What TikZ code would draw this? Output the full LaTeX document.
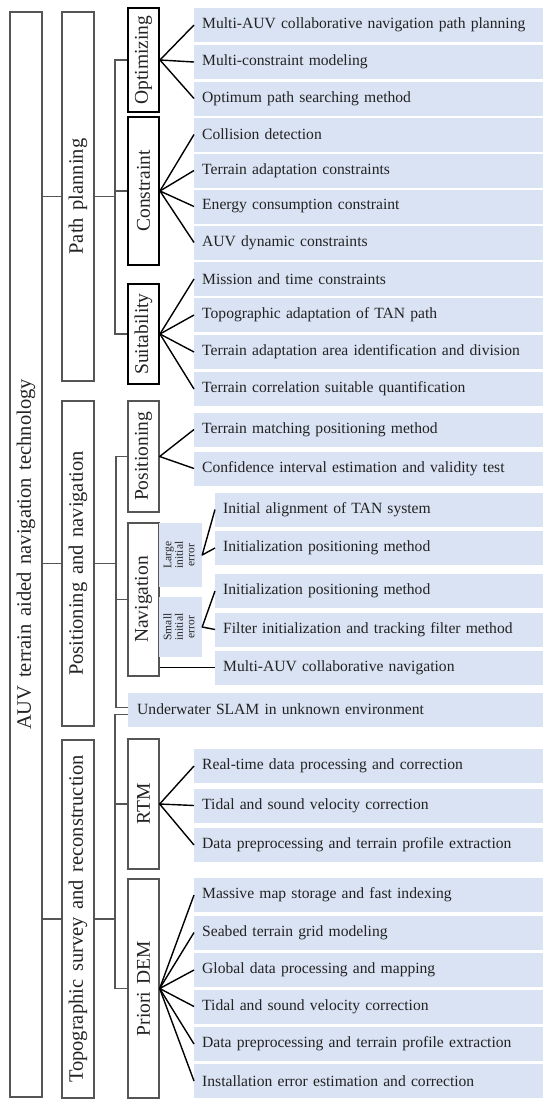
\documentclass[tikz,border=0pt]{standalone}
\usepackage{fontspec}
\setmainfont{Liberation Serif}[WordSpace=1.5]
\usetikzlibrary{calc}
\definecolor{LeafBlue}{RGB}{218,227,243}
\definecolor{LineGray}{RGB}{85,85,85}
\definecolor{TextGray}{RGB}{35,35,35}

\begin{document}
\begin{tikzpicture}[x=1pt, y=-1pt,
    root/.style={draw=LineGray, line width=1.3pt, minimum width=32pt,
                 inner sep=0pt, text=TextGray, font=\fontsize{20.5}{24}\selectfont},
    grp/.style={draw=black, line width=1.9pt, minimum width=31pt,
                inner sep=0pt, text=TextGray, font=\fontsize{19.5}{23}\selectfont},
    subgrp/.style={grp, draw=LineGray, line width=1.3pt},
    leaf/.style={fill=LeafBlue, anchor=west, minimum height=34pt, inner xsep=8pt,
                 inner ysep=0pt, text width=333pt, align=left, text=TextGray,
                 font=\fontsize{15.6}{18}\selectfont},
    err/.style={fill=LeafBlue, minimum width=43pt, inner sep=0pt, text=TextGray,
                font=\fontsize{11.5}{11.5}\selectfont},
    fan/.style={line width=1.4pt, line join=round},
    bus/.style={draw=LineGray, line width=1.2pt}
  ]
  \useasboundingbox (0,0) rectangle (550,1112);

  % Root and first level
  \node[root, minimum height=1085pt] (auv) at (26,554.5)
        {\rotatebox{90}{AUV terrain aided navigation technology}};
  \node[root, minimum height=369pt] (plan) at (78,196.5)
        {\rotatebox{90}{Path planning}};
  \node[root, minimum height=325pt] (posnav) at (78,563.5)
        {\rotatebox{90}{Positioning and navigation}};
  \node[root, minimum height=358pt] (topo) at (78,919)
        {\rotatebox{90}{Topographic survey and reconstruction}};
  \draw[bus] (auv.east |- plan.west) -- (plan.west);
  \draw[bus] (auv.east |- posnav.west) -- (posnav.west);
  \draw[bus] (auv.east |- topo.west) -- (topo.west);

  % Path planning
  \node[grp, minimum height=104pt] (optim) at (143.5,60) {\rotatebox{90}{Optimizing}};
  \node[grp, minimum height=148pt] (constr) at (143.5,191) {\rotatebox{90}{Constraint}};
  \node[grp, minimum height=100pt] (suit) at (143.5,334) {\rotatebox{90}{Suitability}};
  \coordinate (bus1) at (115,0);
  \draw[bus] (plan.east) -- (plan.east -| bus1);
  \draw[bus] (optim.west) -- (optim.west -| bus1) |- (suit.west);
  \draw[bus] (constr.west) -- (constr.west -| bus1);

  \node[leaf] (o1) at (194,25) {Multi-AUV collaborative navigation path planning};
  \node[leaf] (o2) at (194,62) {Multi-constraint modeling};
  \node[leaf] (o3) at (194,98.5) {Optimum path searching method};
  \node[leaf] (c1) at (194,134.5) {Collision detection};
  \node[leaf] (c2) at (194,170.5) {Terrain adaptation constraints};
  \node[leaf] (c3) at (194,206.5) {Energy consumption constraint};
  \node[leaf] (c4) at (194,242.5) {AUV dynamic constraints};
  \node[leaf] (s1) at (194,279) {Mission and time constraints};
  \node[leaf] (s2) at (194,315) {Topographic adaptation of TAN path};
  \node[leaf] (s3) at (194,352) {Terrain adaptation area identification and division};
  \node[leaf] (s4) at (194,389) {Terrain correlation suitable quantification};
  \draw[fan] (o1.west) -- (optim.east) -- (o3.west);
  \draw[fan] (optim.east) -- (o2.west);
  \draw[fan] (c1.west) -- (constr.east) -- (c4.west);
  \draw[fan] (c2.west) -- (constr.east) -- (c3.west);
  \draw[fan] (s1.west) -- (suit.east) -- (s4.west);
  \draw[fan] (s2.west) -- (suit.east) -- (s3.west);

  % Positioning and navigation
  \node[subgrp, minimum height=111pt] (posit) at (143.5,456.5) {\rotatebox{90}{Positioning}};
  \node[subgrp, minimum height=153pt] (navi) at (143.5,599.5) {\rotatebox{90}{Navigation}};
  \node[err, minimum height=64pt] (large) at (180.5,555)
        {\rotatebox{90}{\begin{tabular}{@{}c@{}}Large\\initial\\error\end{tabular}}};
  \node[err, minimum height=60pt] (small) at (180.5,627)
        {\rotatebox{90}{\begin{tabular}{@{}c@{}}Small\\initial\\error\end{tabular}}};

  \node[leaf] (p1) at (194,429.5) {Terrain matching positioning method};
  \node[leaf] (p2) at (194,468.5) {Confidence interval estimation and validity test};
  \node[leaf, text width=312pt] (n1) at (215,509.5) {Initial alignment of TAN system};
  \node[leaf, text width=312pt] (n2) at (215,548) {Initialization positioning method};
  \node[leaf, text width=312pt] (n3) at (215,591) {Initialization positioning method};
  \node[leaf, text width=312pt] (n4) at (215,629.5) {Filter initialization and tracking filter method};
  \node[leaf, text width=312pt] (n5) at (215,667.5) {Multi-AUV collaborative navigation};
  \node[leaf, text width=397pt, inner xsep=9pt] (slam) at (128,709.5)
        {Underwater SLAM in unknown environment};
  \draw[fan] (p1.west) -- (posit.east) -- (p2.west);
  \draw[fan] (n1.west) -- (large.east) -- (n2.west);
  \draw[fan] (n3.west) -- (small.east) -- (n4.west);
  \draw[fan] (navi.east |- n5.west) -- (n5.west);

  \coordinate (bus2) at (116,0);
  \draw[bus] (posnav.east) -- (posnav.east -| bus2);
  \draw[bus] (posit.west) -- (posit.west -| bus2) |- ([yshift=2pt]slam.west);
  \draw[bus] (navi.west) -- (navi.west -| bus2);

  % Topographic survey and reconstruction
  \node[subgrp, minimum height=130pt] (rtm) at (143.5,804) {\rotatebox{90}{RTM}};
  \node[subgrp, minimum height=219pt] (dem) at (143.5,988.5) {\rotatebox{90}{Priori DEM}};
  \coordinate (bus3) at (115,0);
  \draw[bus] (topo.east) -- (topo.east -| bus3);
  \draw[bus] ([yshift=-5pt]slam.west) -| (bus3 |- dem.west) -- (dem.west);
  \draw[bus] (rtm.west) -- (rtm.west -| bus3);

  \node[leaf] (r1) at (194,766) {Real-time data processing and correction};
  \node[leaf] (r2) at (194,805.5) {Tidal and sound velocity correction};
  \node[leaf] (r3) at (194,845) {Data preprocessing and terrain profile extraction};
  \node[leaf] (d1) at (194,895) {Massive map storage and fast indexing};
  \node[leaf] (d2) at (194,932.5) {Seabed terrain grid modeling};
  \node[leaf] (d3) at (194,970) {Global data processing and mapping};
  \node[leaf] (d4) at (194,1006.5) {Tidal and sound velocity correction};
  \node[leaf] (d5) at (194,1044) {Data preprocessing and terrain profile extraction};
  \node[leaf] (d6) at (194,1081) {Installation error estimation and correction};
  \draw[fan] (r1.west) -- (rtm.east) -- (r3.west);
  \draw[fan] (rtm.east) -- (r2.west);
  \draw[fan] (d1.west) -- (dem.east) -- (d6.west);
  \draw[fan] (d2.west) -- (dem.east) -- (d5.west);
  \draw[fan] (d3.west) -- (dem.east) -- (d4.west);
\end{tikzpicture}
\end{document}
